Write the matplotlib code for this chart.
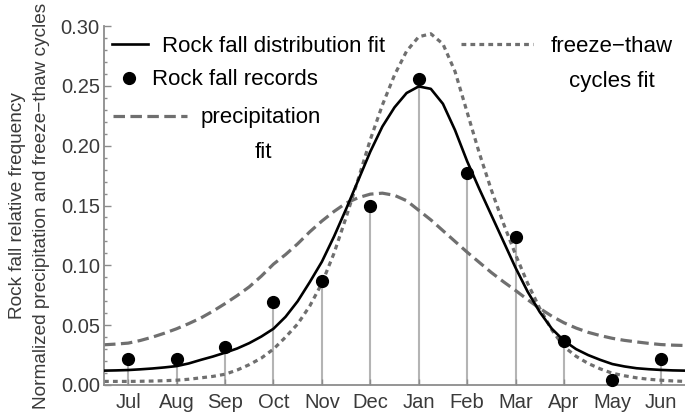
import numpy as np
import matplotlib
matplotlib.use("Agg")
import matplotlib.pyplot as plt
from matplotlib.lines import Line2D

plt.rcParams['font.family'] = ['Liberation Sans', 'DejaVu Sans']

# months (Jul -> Jun) and rock fall records
months = ['Jul', 'Aug', 'Sep', 'Oct', 'Nov', 'Dec', 'Jan', 'Feb', 'Mar', 'Apr', 'May', 'Jun']
records = [0.022, 0.022, 0.032, 0.069, 0.087, 0.150, 0.256, 0.177, 0.124, 0.037, 0.004, 0.022]

# fitted curves, read every quarter month from -0.5 to 11.5
fit_pos = np.arange(-0.5, 11.51, 0.25)
rock_fit = [0.012, 0.0122, 0.0125, 0.0131, 0.0138, 0.0147, 0.0158, 0.0180, 0.021, 0.0238,
            0.027, 0.0305, 0.035, 0.0405, 0.047, 0.057, 0.070, 0.086, 0.103, 0.124,
            0.147, 0.171, 0.195, 0.216, 0.232, 0.244, 0.2495, 0.2475, 0.235, 0.213,
            0.187, 0.164, 0.142, 0.120, 0.098, 0.078, 0.061, 0.047, 0.037, 0.030,
            0.025, 0.021, 0.0175, 0.0155, 0.014, 0.0132, 0.0126, 0.0122, 0.012]
precip_fit = [0.0336, 0.0342, 0.035, 0.0372, 0.040, 0.0433, 0.047, 0.0513, 0.056, 0.0617,
              0.068, 0.0747, 0.082, 0.091, 0.101, 0.109, 0.118, 0.128, 0.137, 0.145,
              0.152, 0.1565, 0.1595, 0.1603, 0.1585, 0.154, 0.146, 0.138, 0.129, 0.120,
              0.111, 0.1025, 0.094, 0.0863, 0.079, 0.0713, 0.064, 0.0575, 0.052, 0.0476,
              0.044, 0.0413, 0.039, 0.0373, 0.036, 0.0348, 0.0338, 0.0333, 0.033]
freeze_fit = [0.003, 0.003, 0.003, 0.0031, 0.0033, 0.0036, 0.004, 0.0048, 0.006, 0.0072,
              0.009, 0.0125, 0.017, 0.0225, 0.030, 0.040, 0.051, 0.066, 0.085, 0.110,
              0.140, 0.172, 0.205, 0.234, 0.259, 0.279, 0.291, 0.2935, 0.285, 0.262,
              0.228, 0.194, 0.163, 0.135, 0.109, 0.085, 0.064, 0.046, 0.032, 0.024,
              0.018, 0.0135, 0.0098, 0.0077, 0.006, 0.0048, 0.004, 0.0034, 0.003]

gray = '#6f6f6f'
axcol = '#8c8c8c'
txtcol = '#3a3a3a'

fig = plt.figure(figsize=(6.85, 4.13), dpi=100)
ax = fig.add_axes([104/685, 28/413, 581/685, 359/413])

x = np.arange(len(months))

# stems
ax.vlines(x, 0, records, colors='#b4b4b4', linewidth=1.5, zorder=1)

l_rock, = ax.plot(fit_pos, rock_fit, color='black', lw=1.9, zorder=3)
l_prec, = ax.plot(fit_pos, precip_fit, color=gray, lw=2.3, dashes=(3.6, 1.7), zorder=2)
l_frz, = ax.plot(fit_pos, freeze_fit, color=gray, lw=2.3, dashes=(1.5, 1.3), zorder=2)
ax.plot(x, records, 'o', color='black', ms=8.5, zorder=4, clip_on=False)

ax.set_xlim(-0.5, 11.5)
ax.set_ylim(0, 0.30)
ax.set_xticks(x)
ax.set_xticklabels(months)
ax.set_yticks(np.arange(0, 0.301, 0.05))
ax.set_yticks(np.arange(0, 0.301, 0.01), minor=True)
ax.yaxis.set_major_formatter(matplotlib.ticker.FormatStrFormatter('%.2f'))

ax.spines['top'].set_visible(False)
ax.spines['right'].set_visible(False)
for s in ['left', 'bottom']:
    ax.spines[s].set_color(axcol)
    ax.spines[s].set_linewidth(1.3)
ax.tick_params(axis='y', which='major', direction='in', length=5, width=1, color=axcol,
               labelsize=14.5, labelcolor=txtcol, pad=3)
ax.tick_params(axis='y', which='minor', direction='in', length=2.5, width=1, color=axcol)
ax.tick_params(axis='x', direction='in', length=4, width=1, color=axcol,
               labelsize=14.5, labelcolor=txtcol, pad=6)

ax.set_ylabel('Rock fall relative frequency\nNormalized precipitation and freeze\u2212thaw cycles',
              fontsize=13.7, color=txtcol, linespacing=1.55)
ax.yaxis.set_label_coords(-0.093, 0.5)

# legends
fs = 16
common = dict(frameon=False, fontsize=fs, borderpad=0, borderaxespad=0, handleheight=0.5,
              loc='center left')
leg1 = ax.legend([l_rock], ['Rock fall distribution fit'],
                 bbox_to_anchor=(0.0138, 0.944), handlelength=1.62, handletextpad=0.63, **common)
ax.add_artist(leg1)
dot = Line2D([], [], marker='o', ls='none', color='black', ms=8.5)
leg2 = ax.legend([dot], ['Rock fall records'],
                 bbox_to_anchor=(0.0138, 0.850), handlelength=1.53, handletextpad=0.27, **common)
ax.add_artist(leg2)
leg3 = ax.legend([l_prec], ['precipitation'],
                 bbox_to_anchor=(0.0155, 0.744), handlelength=3.33, handletextpad=0.63, **common)
ax.add_artist(leg3)
ax.text(0.2737, 0.648, 'fit', transform=ax.transAxes, fontsize=fs, ha='center', va='center')
leg4 = ax.legend([l_frz], ['freeze\u2212thaw'],
                 bbox_to_anchor=(0.6145, 0.944), handlelength=3.24, handletextpad=0.77, **common)
ax.text(0.8744, 0.845, 'cycles fit', transform=ax.transAxes, fontsize=fs, ha='center', va='center')

fig.savefig('out.png', dpi=100)
